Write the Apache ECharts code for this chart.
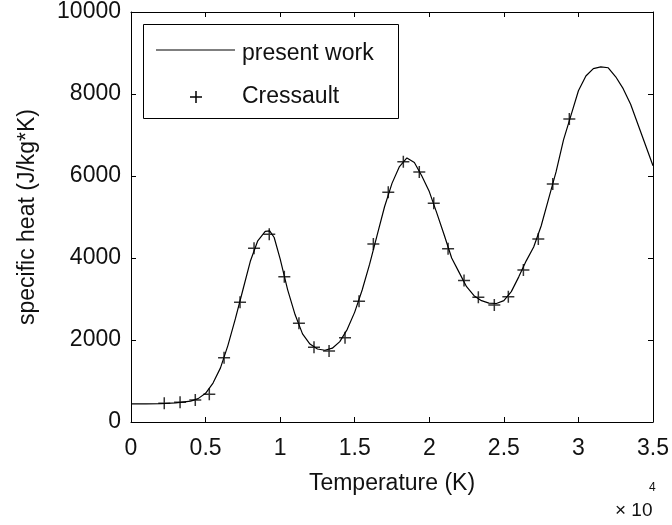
<!DOCTYPE html>
<html>
<head>
<meta charset="utf-8">
<script src="https://cdn.jsdelivr.net/npm/echarts@6/dist/echarts.min.js"></script>
<style>html,body{margin:0;padding:0;background:#fff;}#c{width:672px;height:525px;}</style>
</head>
<body>
<div id="c"></div>
<script>
// present work curve: temperature (K) and specific heat (J/kg*K)
var curveT = [0,1000,2000,3000,4000,4500,5000,5500,6000,6500,7000,7500,8000,8500,9000,9300,9600,10000,10500,11000,11500,12000,12500,13000,13500,14000,14500,15000,15500,16000,16500,17000,17500,18000,18500,19000,19500,20000,20500,21000,21500,22000,22500,23000,23500,24000,24500,25000,25500,26000,26500,27000,27500,28000,28500,29000,29500,30000,30500,31000,31500,32000,32500,33000,33500,34000,34500,35000];
var curveCp = [440,440,445,465,510,570,700,950,1320,1870,2520,3220,3920,4420,4650,4660,4500,3980,3230,2620,2150,1900,1780,1750,1800,1960,2260,2680,3220,3850,4550,5250,5820,6230,6440,6330,6000,5620,5100,4560,4000,3650,3300,3080,2960,2900,2890,2960,3180,3540,3930,4270,4780,5440,6100,6880,7480,8080,8440,8620,8660,8640,8420,8130,7750,7250,6750,6250];
// Cressault reference points
var cressT = [2230,3290,4310,5250,6240,7310,8250,9270,10280,11260,12270,13280,14350,15290,16250,17250,18260,19330,20300,21260,22330,23290,24360,25300,26310,27310,28280,29390];
var cressCp = [456,480,537,675,1570,2920,4236,4578,3544,2407,1825,1732,2057,2945,4341,5605,6350,6100,5334,4224,3450,3041,2854,3057,3707,4463,5805,7390];
// axis ticks
var xTicks = [0,5000,10000,15000,20000,25000,30000,35000];
var yTicks = [0,2000,4000,6000,8000,10000];
var legendNames = ['present work','Cressault'];

var lineData = curveT.map(function(t,i){return [t,curveCp[i]];});
var crossData = cressT.map(function(t,i){return [t,cressCp[i]];});
var FONT = 'Liberation Sans, Arial, Helvetica, sans-serif';
var FS = 23;
var crossPath = 'path://M0,-6L0,6M-6,0L6,0';

var chart = echarts.init(document.getElementById('c'), null, {renderer:'canvas'});
var axisCommon = {
  axisLine:{show:true,onZero:false,lineStyle:{color:'#000',width:1}},
  axisTick:{show:true,inside:true,length:5,lineStyle:{color:'#000',width:1}},
  splitLine:{show:false}
};
chart.setOption({
  backgroundColor:'#fff',
  animation:false,
  grid:{left:131,right:19,top:12,bottom:103},
  xAxis:[
    Object.assign({type:'value',position:'bottom',min:xTicks[0],max:xTicks[xTicks.length-1],interval:5000,
      name:'Temperature (K)',nameLocation:'middle',nameGap:50,
      nameTextStyle:{color:'#111',fontSize:FS,fontFamily:FONT},
      axisLabel:{color:'#111',fontSize:FS,fontFamily:FONT,margin:15,
        formatter:function(v){return String(v/10000);}}},axisCommon),
    Object.assign({type:'value',position:'top',min:xTicks[0],max:xTicks[xTicks.length-1],interval:5000,
      axisLabel:{show:false}},axisCommon)
  ],
  yAxis:[
    Object.assign({type:'value',position:'left',min:yTicks[0],max:yTicks[yTicks.length-1],interval:2000,
      name:'specific heat (J/kg*K)',nameLocation:'middle',nameGap:92,
      nameTextStyle:{color:'#111',fontSize:FS,fontFamily:FONT},
      axisLabel:{color:'#111',fontSize:FS,fontFamily:FONT,margin:10,
        formatter:function(v){return String(v);}}},axisCommon),
    Object.assign({type:'value',position:'right',min:yTicks[0],max:yTicks[yTicks.length-1],interval:2000,
      axisLabel:{show:false}},axisCommon)
  ],
  series:[
    {name:legendNames[0],type:'line',data:lineData,showSymbol:false,symbol:'none',
      lineStyle:{color:'#000',width:1.2},itemStyle:{color:'#000'},z:2},
    {name:legendNames[1],type:'scatter',data:crossData,symbol:crossPath,symbolSize:12,
      itemStyle:{color:'none',borderColor:'#000',borderWidth:1.5},z:3}
  ],
  graphic:[
    {type:'rect',left:143,top:24,shape:{width:255,height:94},
      style:{fill:'#fff',stroke:'#000',lineWidth:1},z:10},
    {type:'line',shape:{x1:156,y1:50,x2:235,y2:50},style:{stroke:'#000',lineWidth:1.2},z:11},
    {type:'text',x:242,y:54,style:{text:legendNames[0],fill:'#111',font:FS+'px '+FONT,textVerticalAlign:'middle',verticalAlign:'middle'},z:11},
    {type:'line',shape:{x1:196,y1:91,x2:196,y2:103},style:{stroke:'#000',lineWidth:1.5},z:11},
    {type:'line',shape:{x1:190,y1:97,x2:202,y2:97},style:{stroke:'#000',lineWidth:1.5},z:11},
    {type:'text',x:242,y:97,style:{text:legendNames[1],fill:'#111',font:FS+'px '+FONT,textVerticalAlign:'middle',verticalAlign:'middle'},z:11},
    {type:'text',x:615,y:511,style:{text:'× 10',fill:'#111',font:'19px '+FONT,verticalAlign:'middle'},z:11},
    {type:'text',x:649,y:488,style:{text:'4',fill:'#111',font:'12px '+FONT,verticalAlign:'middle'},z:11}
  ]
});
</script>
</body>
</html>
